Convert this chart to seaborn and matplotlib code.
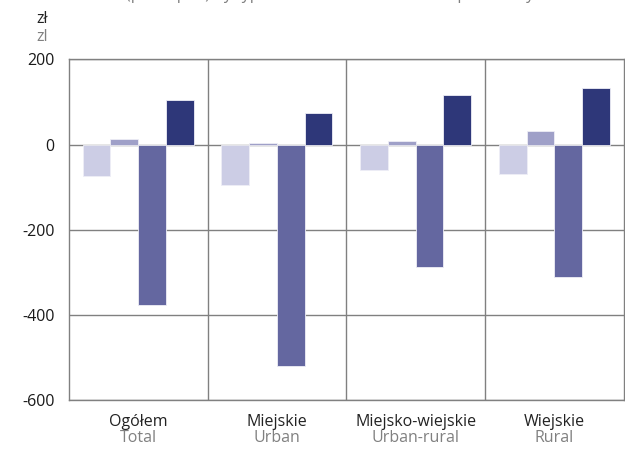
import matplotlib
matplotlib.use("Agg")
import matplotlib.pyplot as plt
import seaborn as sns
import pandas as pd

categories_pl = ["Ogółem", "Miejskie", "Miejsko-wiejskie", "Wiejskie"]
categories_en = ["Total", "Urban", "Urban-rural", "Rural"]
series_names = ["S1", "S2", "S3", "S4"]
s1 = [-74, -96, -59, -69]
s2 = [12, 4, 8, 31]
s3 = [-377, -521, -288, -312]
s4 = [104, 73, 116, 134]
y_ticks = [200, 0, -200, -400, -600]
title_en = "(per capita) by type of area in relation to the previous year"

colors = ["#cccde5", "#9fa0c8", "#6467a0", "#2e3779"]

rows = []
for name, vals in zip(series_names, [s1, s2, s3, s4]):
    for c, v in zip(categories_pl, vals):
        rows.append({"cat": c, "series": name, "value": v})
df = pd.DataFrame(rows)

sns.set_theme(style="white")
plt.rcParams["font.family"] = ["Open Sans", "DejaVu Sans"]

fig = plt.figure(figsize=(6.25, 4.5), dpi=100)
ax = fig.add_axes([0.11, 0.111, 0.888, 0.757])

sns.barplot(data=df, x="cat", y="value", hue="series", order=categories_pl,
            hue_order=series_names, palette=colors, saturation=1, width=0.8, ax=ax,
            edgecolor="#eeeef6", linewidth=0.6, legend=False, errorbar=None)

grid_c = "#808080"
ax.set_axisbelow(True)
ax.set_ylim(-600, 200)
ax.set_xlim(-0.5, len(categories_pl) - 0.5)
ax.set_yticks(y_ticks)
ax.set_yticklabels([str(t) for t in y_ticks], fontsize=11.5, color="#1a1a1a")
ax.yaxis.grid(True, color=grid_c, linewidth=1.0)
for xv in [0.5, 1.5, 2.5]:
    ax.axvline(xv, color=grid_c, linewidth=1.0, zorder=0.5)
for s in ax.spines.values():
    s.set_color(grid_c)
    s.set_linewidth(1.0)
ax.tick_params(axis="both", length=0, pad=10)
ax.set_xlabel("")
ax.set_ylabel("")
ax.set_xticks(range(len(categories_pl)))
ax.set_xticklabels([""] * len(categories_pl))

for i, (pl, en) in enumerate(zip(categories_pl, categories_en)):
    ax.text(i, -0.064, pl, transform=ax.get_xaxis_transform(), ha="center",
            va="center", fontsize=11.5, color="#222222")
    ax.text(i, -0.111, en, transform=ax.get_xaxis_transform(), ha="center",
            va="center", fontsize=11.5, color="#808080")

fig.text(42 / 625, 1 - 19 / 450, "zł", ha="center", va="center", fontsize=11.5, color="#222222")
fig.text(42 / 625, 1 - 37 / 450, "zl", ha="center", va="center", fontsize=11.5, color="#808080")
fig.text(0.548, 1 + 1 / 450, title_en, ha="center", va="baseline", fontsize=11.5, color="#808080")

fig.savefig("out.png", dpi=100)
